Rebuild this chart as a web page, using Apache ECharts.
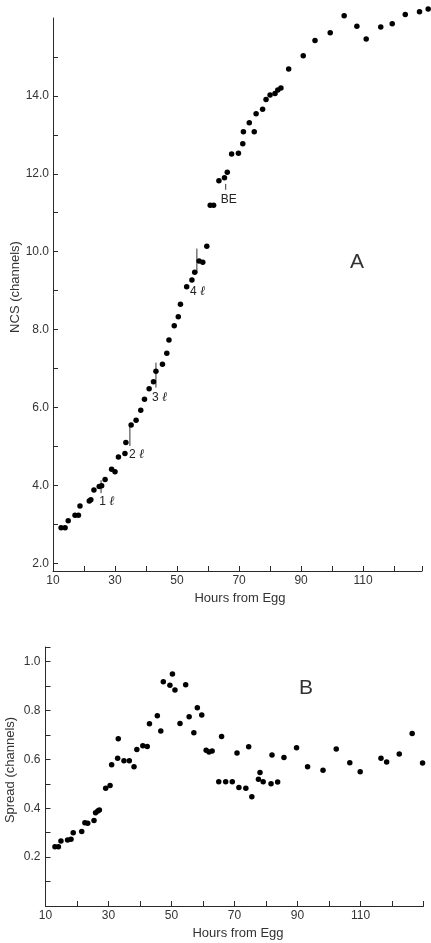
<!DOCTYPE html>
<html><head><meta charset="utf-8">
<script src="https://cdn.jsdelivr.net/npm/echarts@6/dist/echarts.min.js"></script>
<style>html,body{margin:0;padding:0;background:#fff}#c{width:431px;height:943px}</style>
</head><body><div id="c"></div>
<script>
// Panel A: NCS (channels) vs hours from egg
const ncsHours = [12.6,13.9,14.9,17.1,18.2,18.7,21.7,22.2,23.2,24.9,25.7,26.8,28.9,30.0,31.1,33.2,33.5,35.2,36.8,38.3,39.5,41.0,42.4,43.2,45.3,46.7,47.4,49.1,50.4,51.1,53.1,54.8,55.7,57.1,58.3,59.6,60.7,61.8,63.5,65.3,66.2,67.6,69.8,71.2,71.4,73.3,74.9,75.5,77.6,78.7,80.0,81.6,82.5,83.5,86.0,90.7,94.5,99.4,103.9,108.0,111.0,115.7,119.4,123.6,128.2,131.0];
const ncsValues = [2.91,2.91,3.09,3.23,3.23,3.47,3.60,3.63,3.88,3.97,3.99,4.15,4.41,4.35,4.73,4.82,5.10,5.55,5.67,5.93,6.21,6.48,6.66,6.93,7.11,7.39,7.73,8.10,8.33,8.65,9.10,9.27,9.47,9.76,9.73,10.14,11.19,11.19,11.82,11.90,12.04,12.51,12.53,12.77,13.08,13.31,13.08,13.54,13.66,13.91,14.02,14.06,14.15,14.20,14.69,15.03,15.42,15.62,16.06,15.79,15.46,15.77,15.85,16.09,16.16,16.23];

// Panel A stage annotations
const stageNames = ['1','2','3','4','BE'];
const stageHours = [25.5,34.8,43.2,56.4,65.7];
const stageTop = [4.13,5.50,7.15,10.08,11.74];
const stageBottom = [3.80,5.01,6.51,9.45,11.59];
const stageLabelHours = [24.9,34.5,41.9,54.2,64.1];
const stageLabelValues = [3.57,4.79,6.24,8.97,11.33];

// Panel B: Spread (channels) vs hours from egg
const spreadHours = [13.0,14.1,14.9,17.0,18.1,18.8,21.5,22.5,23.4,25.4,25.9,26.6,27.1,29.1,30.5,31.0,32.9,33.1,34.9,36.6,38.1,39.0,40.9,42.3,43.0,45.5,46.6,47.4,49.5,50.3,51.1,52.7,54.5,55.6,57.1,58.2,59.6,61.0,61.9,62.9,65.0,65.9,67.2,69.3,70.8,71.4,73.6,74.5,75.5,77.6,78.1,79.1,81.6,81.9,83.7,85.7,89.7,93.2,98.1,102.3,106.6,109.9,116.5,118.3,122.3,126.4,129.7];
const spreadValues = [0.243,0.243,0.266,0.270,0.273,0.300,0.305,0.341,0.339,0.350,0.382,0.389,0.393,0.482,0.493,0.578,0.605,0.684,0.594,0.594,0.570,0.641,0.656,0.653,0.746,0.779,0.716,0.918,0.903,0.950,0.884,0.747,0.905,0.775,0.709,0.811,0.782,0.637,0.630,0.634,0.509,0.694,0.509,0.509,0.626,0.485,0.482,0.652,0.447,0.519,0.546,0.509,0.500,0.618,0.507,0.608,0.648,0.570,0.556,0.643,0.586,0.549,0.605,0.589,0.622,0.706,0.585];

// Tick labels
const hourTickLabels = [10,30,50,70,90,110];
const ncsTickLabels = [2,4,6,8,10,12,14];
const ncsMinorTicks = [2,3,4,5,6,7,8,9,10,11,12,13,14,15];
const spreadTickLabels = [0.2,0.4,0.6,0.8,1.0];

const FONT = 'Liberation Sans';
const AX = '#2a2a2a';
const TXT = '#333';

function zip(a,b){return a.map((v,i)=>[v,b[i]]);}

const chart = echarts.init(document.getElementById('c'), null, {renderer:'canvas'});

const xCommon = {
  type:'value', min:10, interval:10,
  axisLine:{show:true, onZero:false, lineStyle:{color:AX, width:1}},
  axisTick:{show:true, inside:true, length:5, lineStyle:{color:AX}},
  axisLabel:{customValues:hourTickLabels, margin:4, color:TXT, fontSize:12, fontFamily:FONT},
  splitLine:{show:false}
};

chart.setOption({
  animation:false,
  backgroundColor:'#fff',
  grid:[
    {left:53, right:9, top:18, height:553},
    {left:45.5, right:7.5, top:647, height:259}
  ],
  xAxis:[
    Object.assign({}, xCommon, {gridIndex:0, max:129}),
    Object.assign({}, xCommon, {gridIndex:1, max:130})
  ],
  yAxis:[
    {type:'value', gridIndex:0, min:1.8, max:16,
     axisLine:{show:true, onZero:false, lineStyle:{color:AX}},
     axisTick:{show:true, inside:true, length:5, customValues:ncsMinorTicks, lineStyle:{color:AX}},
     axisLabel:{customValues:ncsTickLabels, margin:4, color:TXT, fontSize:12, fontFamily:FONT,
       formatter:v=>v.toFixed(1)},
     splitLine:{show:false}},
    {type:'value', gridIndex:1, min:0, max:1.06, interval:0.1,
     axisLine:{show:true, onZero:false, lineStyle:{color:AX}},
     axisTick:{show:true, inside:true, length:5, lineStyle:{color:AX}},
     axisLabel:{customValues:spreadTickLabels, margin:5, color:TXT, fontSize:12, fontFamily:FONT,
       formatter:v=>v.toFixed(1)},
     splitLine:{show:false}}
  ],
  graphic:[
    {type:'text', x:15, y:287, rotation:Math.PI/2, style:{text:'NCS (channels)', fill:TXT, font:'13px "Liberation Sans"', align:'center', verticalAlign:'middle'}},
    {type:'text', x:240, y:598, style:{text:'Hours from Egg', fill:TXT, font:'13px "Liberation Sans"', align:'center', verticalAlign:'middle'}},
    {type:'text', x:357, y:262, style:{text:'A', fill:TXT, font:'21px "Liberation Sans"', align:'center', verticalAlign:'middle'}},
    {type:'text', x:10, y:770, rotation:Math.PI/2, style:{text:'Spread (channels)', fill:TXT, font:'13px "Liberation Sans"', align:'center', verticalAlign:'middle'}},
    {type:'text', x:238, y:933, style:{text:'Hours from Egg', fill:TXT, font:'13px "Liberation Sans"', align:'center', verticalAlign:'middle'}},
    {type:'text', x:306, y:688, style:{text:'B', fill:TXT, font:'21px "Liberation Sans"', align:'center', verticalAlign:'middle'}}
  ],
  series:[
    {type:'scatter', xAxisIndex:0, yAxisIndex:0, data:zip(ncsHours,ncsValues), symbolSize:5.5, clip:false,
     itemStyle:{color:'#000', opacity:1}},
    {type:'custom', xAxisIndex:0, yAxisIndex:0, clip:false,
     data: stageNames.map((n,i)=>[stageHours[i], stageTop[i], stageBottom[i], stageLabelHours[i], stageLabelValues[i], i]),
     renderItem:function(params, api){
       const i = api.value(5);
       const p1 = api.coord([api.value(0), api.value(1)]);
       const p2 = api.coord([api.value(0), api.value(2)]);
       const pl = api.coord([api.value(3), api.value(4)]);
       const name = stageNames[i];
       const txt = name === 'BE' ? 'BE' : '{n|' + name + '} {l|ℓ}';
       return {type:'group', children:[
         {type:'line', shape:{x1:p1[0], y1:p1[1], x2:p2[0], y2:p2[1]}, style:{stroke:'#333', lineWidth:1}},
         {type:'text', x:pl[0], y:pl[1], style:{text:txt, fill:'#222', font:'12px "Liberation Sans"', align:'left', verticalAlign:'middle',
           rich:{n:{fontSize:12, fontFamily:FONT}, l:{fontSize:13, fontStyle:'italic', fontFamily:'DejaVu Serif'}}}}
       ]};
     }},
    {type:'scatter', xAxisIndex:1, yAxisIndex:1, data:zip(spreadHours,spreadValues), symbolSize:5.5, clip:false,
     itemStyle:{color:'#000', opacity:1}}
  ]
});
</script></body></html>
